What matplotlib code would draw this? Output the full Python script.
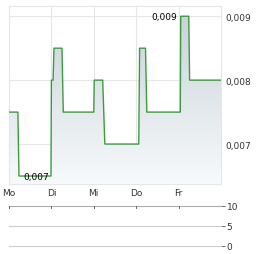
import numpy as np
import matplotlib
matplotlib.use("Agg")
import matplotlib.pyplot as plt

# intraday price path (x in days, Mo = 0)
t = [0.0, 0.21, 0.235, 0.99, 1.0, 1.04, 1.06, 1.25, 1.28, 2.0, 2.01, 2.21, 2.26,
     3.06, 3.08, 3.22, 3.25, 4.04, 4.05, 4.24, 4.26, 5.0]
price = [0.0075, 0.0075, 0.0065, 0.0065, 0.008, 0.008, 0.0085, 0.0085, 0.0075, 0.0075,
         0.008, 0.008, 0.007, 0.007, 0.0085, 0.0085, 0.0075, 0.0075, 0.009, 0.009,
         0.008, 0.008]
days = ["Mo", "Di", "Mi", "Do", "Fr"]
price_ticks = [0.007, 0.008, 0.009]
high_label = "0,009"
low_label = "0,007"
vol_ticks = [0, 5, 10]

ymin, ymax = 0.006375, 0.00916
grid = "#e6e6e6"
txt = "#333333"

fig = plt.figure(figsize=(2.64, 2.55), dpi=100)
ax = fig.add_axes([9 / 264, 1 - 185 / 255, 212 / 264, 178 / 255])
ax.set_xlim(0, 5)
ax.set_ylim(ymin, ymax)

# gradient fill under the line
grad = np.linspace(1, 0, 256).reshape(-1, 1)
top = np.array([0.78, 0.82, 0.85])
bot = np.array([0.97, 0.98, 0.985])
img = top * grad[..., None] + bot * (1 - grad[..., None])
im = ax.imshow(img, extent=[0, 5, ymin, ymax], aspect="auto", origin="upper", zorder=1)
poly = ax.fill_between(t, price, ymin, color="none")
clip = poly.get_paths()[0]
im.set_clip_path(clip, transform=ax.transData)

ax.plot(t, price, color="#3f9a3f", lw=1.0, zorder=3)

for i in range(len(days)):
    ax.axvline(i, color=grid, lw=0.8, zorder=0)
for v in price_ticks:
    ax.axhline(v, color=grid, lw=0.8, zorder=0)

ax.yaxis.tick_right()
ax.set_yticks(price_ticks)
ax.set_yticklabels([f"{v:.3f}".replace(".", ",") for v in price_ticks], fontsize=6.5, color=txt)
ax.set_xticks(range(len(days)))
ax.set_xticklabels(days, fontsize=6.5, color=txt)
ax.tick_params(length=0, pad=3)
for s in ax.spines.values():
    s.set_color(grid)
    s.set_linewidth(0.8)

# min / max annotations
imax = int(np.argmax(price))
imin = int(np.argmin(price))
ax.text(t[imax] - 0.08, price[imax], high_label,
        fontsize=6.5, color="black", ha="right", va="center", zorder=4)
ax.text(t[imin] + 0.11, price[imin], low_label,
        fontsize=6.5, color="black", ha="left", va="center", zorder=4)

# volume panel
vax = fig.add_axes([9 / 264, 1 - 247 / 255, 212 / 264, 40 / 255])
vax.set_xlim(0, 5)
vax.set_ylim(0, 10)
for v in vol_ticks:
    vax.axhline(v, color="#aaaaaa" if v == 10 else "#cccccc", lw=0.8, clip_on=False)
for i in range(len(days)):
    vax.plot([i, i], [10, 9.4], color="#666666", lw=0.7)
for s in vax.spines.values():
    s.set_visible(False)
vax.set_xticks([])
vax.yaxis.tick_right()
vax.set_yticks(vol_ticks)
vax.set_yticklabels([str(v) for v in vol_ticks], fontsize=6.5, color=txt)
vax.tick_params(axis="y", length=3, width=0.7, color="#666666", pad=1)

fig.savefig("out.png", dpi=100)
